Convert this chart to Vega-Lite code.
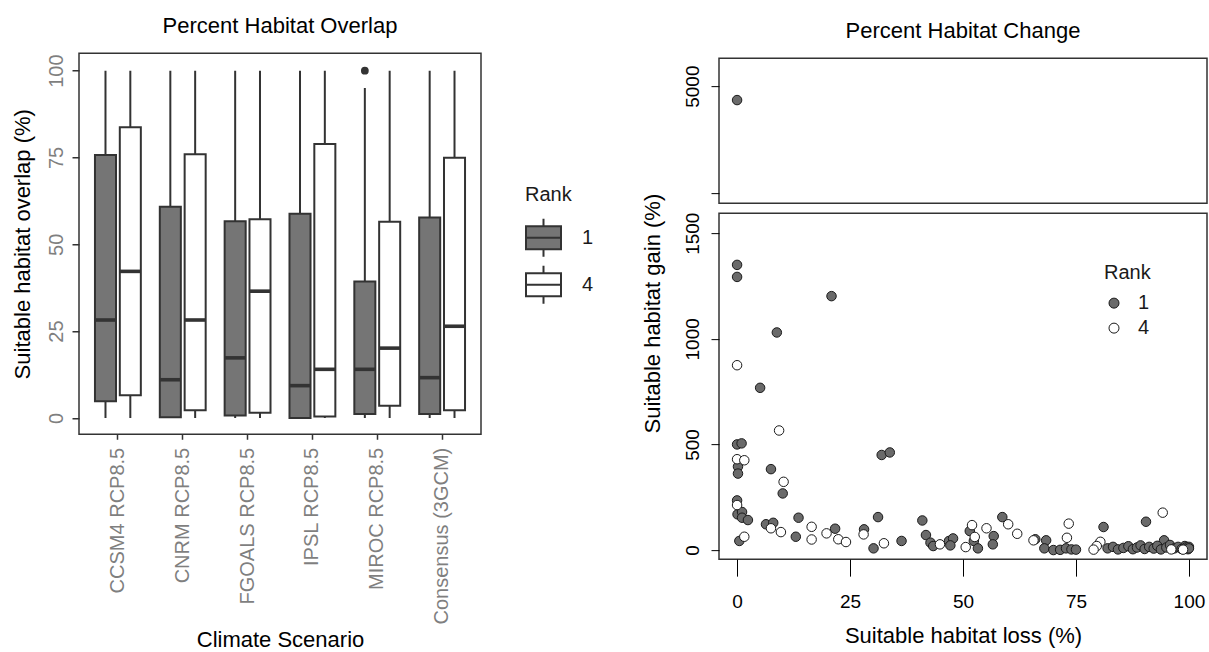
{
  "$schema": "https://vega.github.io/schema/vega-lite/v6.json",
  "padding": {"left": 10, "top": 14, "right": 0, "bottom": 0},
  "spacing": 45,
  "center": true,
  "resolve": {"scale": {"fill": "independent", "x": "independent", "y": "independent"}, "legend": {"fill": "independent"}},
  "datasets": {
    "boxes": [
      {"scenario": "CCSM4 RCP8.5", "rank": "1", "min": 0, "q1": 4.8, "median": 28.2, "q3": 75.7, "max": 100},
      {"scenario": "CCSM4 RCP8.5", "rank": "4", "min": 0, "q1": 6.5, "median": 42.2, "q3": 83.7, "max": 100},
      {"scenario": "CNRM RCP8.5", "rank": "1", "min": 0, "q1": 0.2, "median": 11.0, "q3": 60.8, "max": 100},
      {"scenario": "CNRM RCP8.5", "rank": "4", "min": 0, "q1": 2.2, "median": 28.2, "q3": 75.9, "max": 100},
      {"scenario": "FGOALS RCP8.5", "rank": "1", "min": 0, "q1": 0.7, "median": 17.3, "q3": 56.6, "max": 100},
      {"scenario": "FGOALS RCP8.5", "rank": "4", "min": 0, "q1": 1.5, "median": 36.5, "q3": 57.2, "max": 100},
      {"scenario": "IPSL RCP8.5", "rank": "1", "min": 0, "q1": 0, "median": 9.3, "q3": 58.8, "max": 100},
      {"scenario": "IPSL RCP8.5", "rank": "4", "min": 0, "q1": 0.4, "median": 14.0, "q3": 78.9, "max": 100},
      {"scenario": "MIROC RCP8.5", "rank": "1", "min": 0, "q1": 1.1, "median": 14.0, "q3": 39.3, "max": 95.0},
      {"scenario": "MIROC RCP8.5", "rank": "4", "min": 0, "q1": 3.5, "median": 20.1, "q3": 56.5, "max": 100},
      {"scenario": "Consensus (3GCM)", "rank": "1", "min": 0, "q1": 1.1, "median": 11.6, "q3": 57.7, "max": 100},
      {"scenario": "Consensus (3GCM)", "rank": "4", "min": 0, "q1": 2.2, "median": 26.4, "q3": 74.9, "max": 100}
    ],
    "outliers": [
      {"scenario": "MIROC RCP8.5", "rank": "1", "value": 100}
    ],
    "scatter": [
      {"loss": 0, "gain": 4870, "rank": "1"},
      {"loss": 0, "gain": 1350, "rank": "1"},
      {"loss": 0, "gain": 1293, "rank": "1"},
      {"loss": 20.9, "gain": 1202, "rank": "1"},
      {"loss": 8.8, "gain": 1030, "rank": "1"},
      {"loss": 5.1, "gain": 768, "rank": "1"},
      {"loss": 0, "gain": 500, "rank": "1"},
      {"loss": 1.0, "gain": 505, "rank": "1"},
      {"loss": 0.2, "gain": 395, "rank": "1"},
      {"loss": 0.2, "gain": 362, "rank": "1"},
      {"loss": 7.5, "gain": 383, "rank": "1"},
      {"loss": 10.1, "gain": 268, "rank": "1"},
      {"loss": 32.0, "gain": 450, "rank": "1"},
      {"loss": 33.8, "gain": 462, "rank": "1"},
      {"loss": 0, "gain": 235, "rank": "1"},
      {"loss": 0.1, "gain": 169, "rank": "1"},
      {"loss": 1.1, "gain": 180, "rank": "1"},
      {"loss": 1.1, "gain": 153, "rank": "1"},
      {"loss": 2.4, "gain": 142, "rank": "1"},
      {"loss": 6.4, "gain": 122, "rank": "1"},
      {"loss": 8.0, "gain": 129, "rank": "1"},
      {"loss": 13.6, "gain": 153, "rank": "1"},
      {"loss": 13.0, "gain": 63, "rank": "1"},
      {"loss": 0.5, "gain": 43, "rank": "1"},
      {"loss": 21.7, "gain": 101, "rank": "1"},
      {"loss": 28.1, "gain": 98, "rank": "1"},
      {"loss": 31.2, "gain": 156, "rank": "1"},
      {"loss": 30.2, "gain": 8, "rank": "1"},
      {"loss": 36.4, "gain": 43, "rank": "1"},
      {"loss": 41.0, "gain": 140, "rank": "1"},
      {"loss": 41.8, "gain": 71, "rank": "1"},
      {"loss": 42.8, "gain": 35, "rank": "1"},
      {"loss": 43.4, "gain": 19, "rank": "1"},
      {"loss": 46.9, "gain": 43, "rank": "1"},
      {"loss": 47.8, "gain": 55, "rank": "1"},
      {"loss": 47.2, "gain": 22, "rank": "1"},
      {"loss": 51.5, "gain": 90, "rank": "1"},
      {"loss": 52.4, "gain": 43, "rank": "1"},
      {"loss": 53.3, "gain": 8, "rank": "1"},
      {"loss": 56.8, "gain": 66, "rank": "1"},
      {"loss": 56.6, "gain": 27, "rank": "1"},
      {"loss": 58.7, "gain": 156, "rank": "1"},
      {"loss": 66.0, "gain": 51, "rank": "1"},
      {"loss": 68.4, "gain": 46, "rank": "1"},
      {"loss": 68.0, "gain": 8, "rank": "1"},
      {"loss": 70.0, "gain": 0, "rank": "1"},
      {"loss": 71.5, "gain": 1, "rank": "1"},
      {"loss": 72.8, "gain": 8, "rank": "1"},
      {"loss": 74.0, "gain": 3, "rank": "1"},
      {"loss": 75.0, "gain": 2, "rank": "1"},
      {"loss": 81.1, "gain": 109, "rank": "1"},
      {"loss": 90.5, "gain": 134, "rank": "1"},
      {"loss": 94.5, "gain": 46, "rank": "1"},
      {"loss": 99.1, "gain": 19, "rank": "1"},
      {"loss": 82.0, "gain": 8, "rank": "1"},
      {"loss": 83.2, "gain": 15, "rank": "1"},
      {"loss": 84.3, "gain": 3, "rank": "1"},
      {"loss": 85.5, "gain": 10, "rank": "1"},
      {"loss": 86.6, "gain": 18, "rank": "1"},
      {"loss": 87.6, "gain": 4, "rank": "1"},
      {"loss": 88.5, "gain": 12, "rank": "1"},
      {"loss": 89.3, "gain": 22, "rank": "1"},
      {"loss": 90.2, "gain": 5, "rank": "1"},
      {"loss": 91.2, "gain": 15, "rank": "1"},
      {"loss": 92.2, "gain": 7, "rank": "1"},
      {"loss": 93.0, "gain": 20, "rank": "1"},
      {"loss": 93.8, "gain": 3, "rank": "1"},
      {"loss": 95.0, "gain": 12, "rank": "1"},
      {"loss": 95.8, "gain": 24, "rank": "1"},
      {"loss": 96.8, "gain": 8, "rank": "1"},
      {"loss": 97.6, "gain": 15, "rank": "1"},
      {"loss": 98.4, "gain": 5, "rank": "1"},
      {"loss": 99.3, "gain": 12, "rank": "1"},
      {"loss": 99.8, "gain": 4, "rank": "1"},
      {"loss": 100, "gain": 15, "rank": "1"},
      {"loss": 100, "gain": 8, "rank": "1"},
      {"loss": 0, "gain": 875, "rank": "4"},
      {"loss": 9.3, "gain": 566, "rank": "4"},
      {"loss": 0, "gain": 430, "rank": "4"},
      {"loss": 1.6, "gain": 425, "rank": "4"},
      {"loss": 10.3, "gain": 323, "rank": "4"},
      {"loss": 0, "gain": 213, "rank": "4"},
      {"loss": 7.5, "gain": 103, "rank": "4"},
      {"loss": 9.7, "gain": 85, "rank": "4"},
      {"loss": 16.5, "gain": 110, "rank": "4"},
      {"loss": 16.5, "gain": 50, "rank": "4"},
      {"loss": 1.6, "gain": 63, "rank": "4"},
      {"loss": 19.8, "gain": 79, "rank": "4"},
      {"loss": 22.4, "gain": 51, "rank": "4"},
      {"loss": 24.1, "gain": 38, "rank": "4"},
      {"loss": 28.0, "gain": 74, "rank": "4"},
      {"loss": 32.5, "gain": 32, "rank": "4"},
      {"loss": 44.9, "gain": 27, "rank": "4"},
      {"loss": 50.6, "gain": 14, "rank": "4"},
      {"loss": 52.0, "gain": 118, "rank": "4"},
      {"loss": 52.6, "gain": 62, "rank": "4"},
      {"loss": 55.2, "gain": 103, "rank": "4"},
      {"loss": 60.0, "gain": 122, "rank": "4"},
      {"loss": 62.0, "gain": 77, "rank": "4"},
      {"loss": 65.6, "gain": 46, "rank": "4"},
      {"loss": 73.4, "gain": 125, "rank": "4"},
      {"loss": 73.0, "gain": 58, "rank": "4"},
      {"loss": 80.4, "gain": 39, "rank": "4"},
      {"loss": 79.6, "gain": 19, "rank": "4"},
      {"loss": 78.9, "gain": 2, "rank": "4"},
      {"loss": 94.2, "gain": 177, "rank": "4"},
      {"loss": 96.1, "gain": 3, "rank": "4"},
      {"loss": 98.7, "gain": 2, "rank": "4"}
    ]
  },
  "hconcat": [
    {
      "width": 402,
      "height": 381,
      "title": {"text": "Percent Habitat Overlap", "offset": 15},
      "data": {"name": "boxes"},
      "encoding": {
        "x": {
          "field": "scenario", "type": "nominal",
          "sort": ["CCSM4 RCP8.5", "CNRM RCP8.5", "FGOALS RCP8.5", "IPSL RCP8.5", "MIROC RCP8.5", "Consensus (3GCM)"],
          "scale": {"paddingInner": 0.2, "paddingOuter": 0.2},
          "title": "Climate Scenario",
          "axis": {"labelAngle": 270, "labelFontSize": 20, "labelColor": "#7f7f7f", "labelPadding": 8, "tickColor": "#333333", "tickSize": 5, "tickWidth": 1.5, "titleFontSize": 22, "titlePadding": 6}
        },
        "xOffset": {"field": "rank", "type": "nominal", "scale": {"paddingInner": 0.153, "paddingOuter": 0.121}}
      },
      "layer": [
        {
          "mark": {"type": "rule", "color": "#333333", "strokeWidth": 2},
          "encoding": {
            "y": {
              "field": "min", "type": "quantitative",
              "scale": {"domain": [-4.7, 105], "nice": false, "zero": false},
              "title": "Suitable habitat overlap (%)",
              "axis": {"values": [0, 25, 50, 75, 100], "labelAngle": 270, "labelFontSize": 20, "labelColor": "#7f7f7f", "labelPadding": 6, "tickColor": "#333333", "tickSize": 7, "tickWidth": 1.5, "titleFontSize": 22, "titlePadding": 12}
            },
            "y2": {"field": "max"}
          }
        },
        {
          "mark": {"type": "bar", "stroke": "#333333", "strokeWidth": 2},
          "encoding": {
            "y": {"field": "q1", "type": "quantitative"},
            "y2": {"field": "q3"},
            "fill": {
              "field": "rank", "type": "nominal",
              "scale": {"domain": ["1", "4"], "range": ["#757575", "#ffffff"]},
              "legend": {
                "title": "Rank", "orient": "none", "legendX": 446, "legendY": 132,
                "padding": 0, "titleFontSize": 20, "titleFontWeight": "normal", "titleColor": "#1a1a1a", "titlePadding": 14,
                "labelFontSize": 20, "labelColor": "#1a1a1a", "labelOffset": 20, "rowPadding": 0,
                "symbolType": "M-1,-0.66H1V0.66H-1ZM-1,0H1M0,-0.66V-1.08M0,0.66V1.08",
                "symbolSize": 1225, "symbolStrokeColor": "#333333", "symbolStrokeWidth": 2, "symbolOpacity": 1
              }
            }
          }
        },
        {
          "mark": {"type": "tick", "color": "#333333", "thickness": 3.6, "size": 21, "orient": "horizontal", "opacity": 1},
          "encoding": {
            "y": {"field": "median", "type": "quantitative"}
          }
        },
        {
          "data": {"name": "outliers"},
          "mark": {"type": "circle", "color": "#333333", "opacity": 1, "size": 60},
          "encoding": {
            "y": {"field": "value", "type": "quantitative"}
          }
        }
      ]
    },
    {
      "spacing": 10,
      "bounds": "flush",
      "resolve": {"scale": {"fill": "independent", "x": "independent", "y": "independent"}, "legend": {"fill": "independent"}},
      "vconcat": [
        {
          "width": 488,
          "height": 145,
          "title": {"text": "Percent Habitat Change", "offset": 15},
          "data": {"name": "scatter"},
          "transform": [{"filter": "datum.gain > 2000"}],
          "mark": {"type": "circle", "size": 90, "stroke": "#1a1a1a", "strokeWidth": 1, "opacity": 1},
          "encoding": {
            "x": {"field": "loss", "type": "quantitative", "scale": {"domain": [-4, 104], "nice": false, "zero": false}, "axis": null},
            "y": {
              "field": "gain", "type": "quantitative",
              "scale": {"domain": [3907, 5262], "nice": false, "zero": false},
              "axis": {"values": [4000, 5000], "labelExpr": "datum.value == 5000 ? '5000' : ''", "labelAngle": 270, "labelFontSize": 19, "labelColor": "#000000", "labelPadding": 9, "tickColor": "#000000", "tickSize": 8, "title": null}
            },
            "fill": {"field": "rank", "type": "nominal", "scale": {"domain": ["1", "4"], "range": ["#6a6a6a", "#ffffff"]}, "legend": null}
          }
        },
        {
          "width": 488,
          "height": 346,
          "data": {"name": "scatter"},
          "transform": [{"filter": "datum.gain < 2000"}],
          "mark": {"type": "circle", "size": 90, "stroke": "#1a1a1a", "strokeWidth": 1, "opacity": 1},
          "encoding": {
            "x": {
              "field": "loss", "type": "quantitative",
              "scale": {"domain": [-4, 104], "nice": false, "zero": false},
              "title": "Suitable habitat loss (%)",
              "axis": {"values": [0, 25, 50, 75, 100], "labelFontSize": 19, "labelColor": "#000000", "labelPadding": 16, "tickColor": "#000000", "tickSize": 17, "titleFontSize": 22, "titlePadding": 14}
            },
            "y": {
              "field": "gain", "type": "quantitative",
              "scale": {"domain": [-43, 1595], "nice": false, "zero": false},
              "title": "Suitable habitat gain (%)",
              "axis": {"values": [0, 500, 1000, 1500], "format": "d", "labelAngle": 270, "labelFontSize": 19, "labelColor": "#000000", "labelPadding": 9, "tickColor": "#000000", "tickSize": 8, "titleFontSize": 22, "titleY": 100, "titleX": -55}
            },
            "fill": {
              "field": "rank", "type": "nominal",
              "scale": {"domain": ["1", "4"], "range": ["#6a6a6a", "#ffffff"]},
              "legend": {
                "title": "Rank", "orient": "none", "legendX": 385, "legendY": 50,
                "padding": 0, "titleFontSize": 20, "titleFontWeight": "normal", "titleColor": "#1a1a1a", "titlePadding": 10,
                "labelFontSize": 20, "labelColor": "#1a1a1a", "labelOffset": 14, "rowPadding": 5,
                "symbolType": "circle", "symbolSize": 100, "symbolStrokeColor": "#1a1a1a", "symbolStrokeWidth": 1, "symbolOpacity": 1
              }
            }
          }
        }
      ]
    }
  ],
  "config": {
    "font": "Liberation Sans",
    "view": {"stroke": "#333333", "strokeWidth": 1.5},
    "title": {"fontSize": 22, "fontWeight": "normal", "color": "#000000"},
    "axis": {"grid": false, "domain": false, "titleFontWeight": "normal", "titleColor": "#000000"}
  }
}
